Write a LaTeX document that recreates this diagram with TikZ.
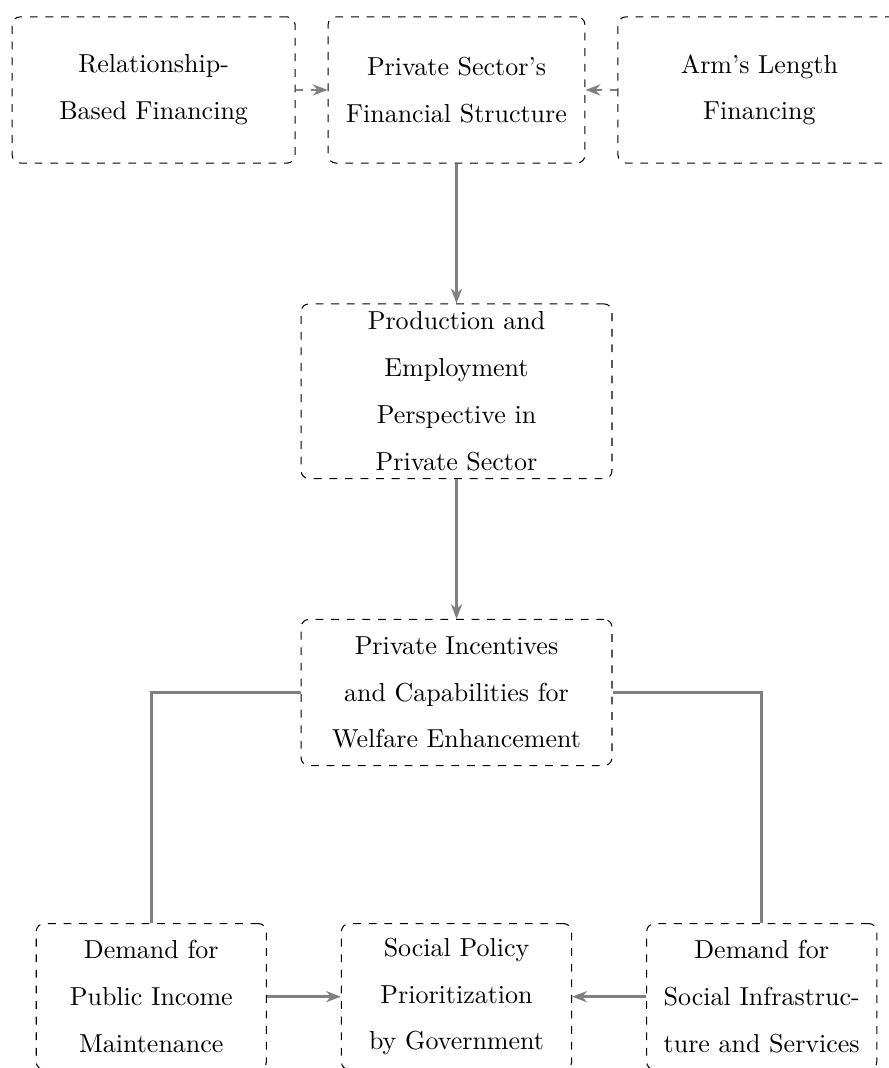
\documentclass[tikz,border=0pt]{standalone}
\usepackage{xcolor}
\definecolor{cLine}{HTML}{808080}
\definecolor{cBorder}{HTML}{000000}
\usetikzlibrary{positioning,arrows.meta}
\tikzset{
  node-box/.style={draw=cBorder,dashed,rounded corners=3pt,
    minimum height=56.2pt,align=center,inner sep=3pt,
    font=\fontsize{10}{18}\selectfont},
  node-side/.style={node-box,minimum width=108.8pt},
  node-mid/.style={node-box,minimum width=98.8pt},
  node-wide/.style={node-box,minimum width=119.6pt},
  node-small/.style={node-box,minimum width=88.5pt},
  arrow/.style={-{Stealth[length=2mm]},line width=1pt,draw=cLine},
  arrow-dashed/.style={arrow,dashed},
  link/.style={line width=1pt,draw=cLine},
}
\begin{document}
\begin{tikzpicture}
  \useasboundingbox (-175.6pt,-376.2pt) rectangle (166pt,34.6pt);
  % top row
  \node[node-mid]                         (fin)   {Private Sector's\\Financial Structure};
  \node[node-side,left=12.3pt of fin]     (rel)   {Relationship-\\Based Financing};
  \node[node-side,right=12.3pt of fin]    (arm)   {Arm's Length\\Financing};
  % middle chain
  \node[node-wide,below=53.8pt of fin]    (prod)  {Production and\\Employment\\Perspective in\\Private Sector};
  \node[node-wide,below=53.8pt of prod]   (inc)   {Private Incentives\\and Capabilities for\\Welfare Enhancement};
  % bottom row
  \node[node-small,below=60.4pt of inc]   (pol)   {Social Policy\\Prioritization\\by Government};
  \node[node-small,left=28.5pt of pol]    (pub)   {Demand for\\Public Income\\Maintenance};
  \node[node-small,right=28.5pt of pol]   (infra) {Demand for\\Social Infrastruc-\\ture and Services};
  \draw[arrow-dashed] (rel) -- (fin);
  \draw[arrow-dashed] (arm) -- (fin);
  \draw[arrow] (fin) -- (prod);
  \draw[arrow] (prod) -- (inc);
  \draw[link] (inc.west) -| (pub.north);
  \draw[link] (inc.east) -| (infra.north);
  \draw[arrow] (pub) -- (pol);
  \draw[arrow] (infra) -- (pol);
\end{tikzpicture}
\end{document}
